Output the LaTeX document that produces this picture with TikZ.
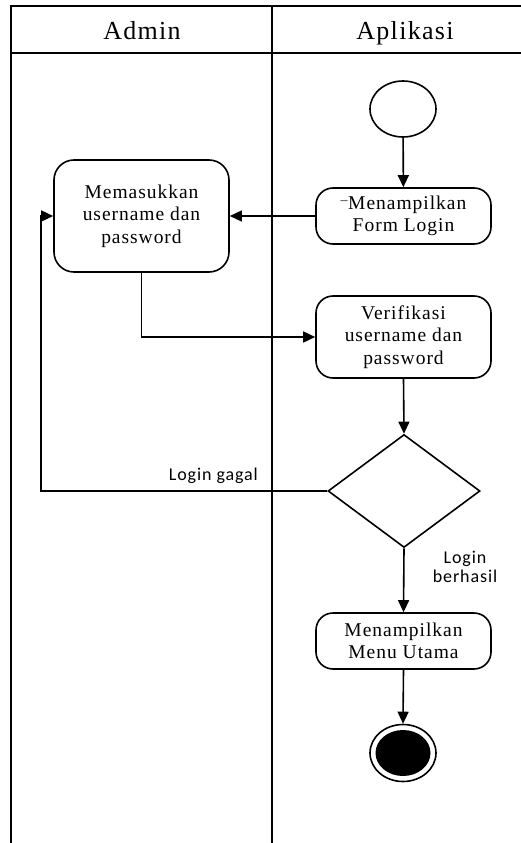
\documentclass[tikz,border=0pt]{standalone}
\usepackage{fontspec}
\setmainfont{Liberation Serif}
\newfontfamily\calib{Carlito}
\usetikzlibrary{arrows.meta,shapes.geometric}
\begin{document}
\begin{tikzpicture}[x=1pt,y=-1pt,
  ln/.style={line width=1.6pt},
  act/.style={draw,line width=1.6pt,rounded corners=17pt,minimum width=175pt,inner sep=0pt,align=center,
    font=\fontsize{19.5}{22.5}\selectfont\addfontfeature{LetterSpace=5}},
  arr/.style={line width=1.6pt,-{Triangle[length=12pt,width=11pt]}},
  hdr/.style={anchor=base,font=\fontsize{26}{30}\selectfont\addfontfeature{LetterSpace=5}},
  lbl/.style={font=\calib\fontsize{18}{19}\selectfont\addfontfeature{LetterSpace=5},align=center,inner sep=0pt}
]
\useasboundingbox (0,0) rectangle (521,843);
\fill[white] (0,0) rectangle (521,843);
% swimlane frame
\draw[ln] (11,843) -- (11,6) -- (521,6);
\draw[ln] (11,53) -- (521,53);
\draw[ln] (272,6) -- (272,843);
\node[hdr] (hA) at (142,40) {Admin};
\node[hdr] (hB) at (405,40) {Aplikasi};
% nodes
\node[draw,ellipse,line width=1.6pt,minimum width=66pt,minimum height=56pt,inner sep=0pt] (start) at (403,109) {};
\node[act,minimum height=56pt] (form) at (403.5,216) {\raisebox{-2pt}{\fontsize{14}{14}\selectfont ¯}\kern0.5pt Menampilkan\\Form Login};
\node[act,minimum height=112pt,rounded corners=20pt] (mem) at (141.5,216) {Memasukkan\\username dan\\password};
\node[act,minimum height=82pt] (ver) at (403.5,337) {Verifikasi\\username dan\\password};
\node[draw,diamond,line width=1.6pt,minimum width=152pt,minimum height=113pt,inner sep=0pt] (dec) at (404,491) {};
\node[act,minimum height=56pt] (menu) at (403.5,641) {Menampilkan\\Menu Utama};
\node[draw,ellipse,line width=1.6pt,minimum width=66pt,minimum height=57pt,inner sep=0pt] (end) at (403,753) {};
\node[fill=black,ellipse,minimum width=55pt,minimum height=46pt,inner sep=0pt] (endin) at (end.center) {};
\coordinate (g) at (41,491);
% connectors
\draw[arr] (start) -- (form);
\draw[arr] (form.west) -- (mem.east);
\draw[arr] (mem.south) |- (ver.west);
\draw[arr] (ver.south) -- (dec.north);
\draw[arr] (dec.west) -- (g) |- (mem.west);
\draw[arr] (dec.south) -- (menu.north);
\draw[arr] (menu.south) -- (end.north);
% labels
\node[lbl,anchor=base east] (lg) at (258,480) {Login gagal};
\node[lbl] (lb) at (465,567) {Login\\berhasil};
\end{tikzpicture}
\end{document}
